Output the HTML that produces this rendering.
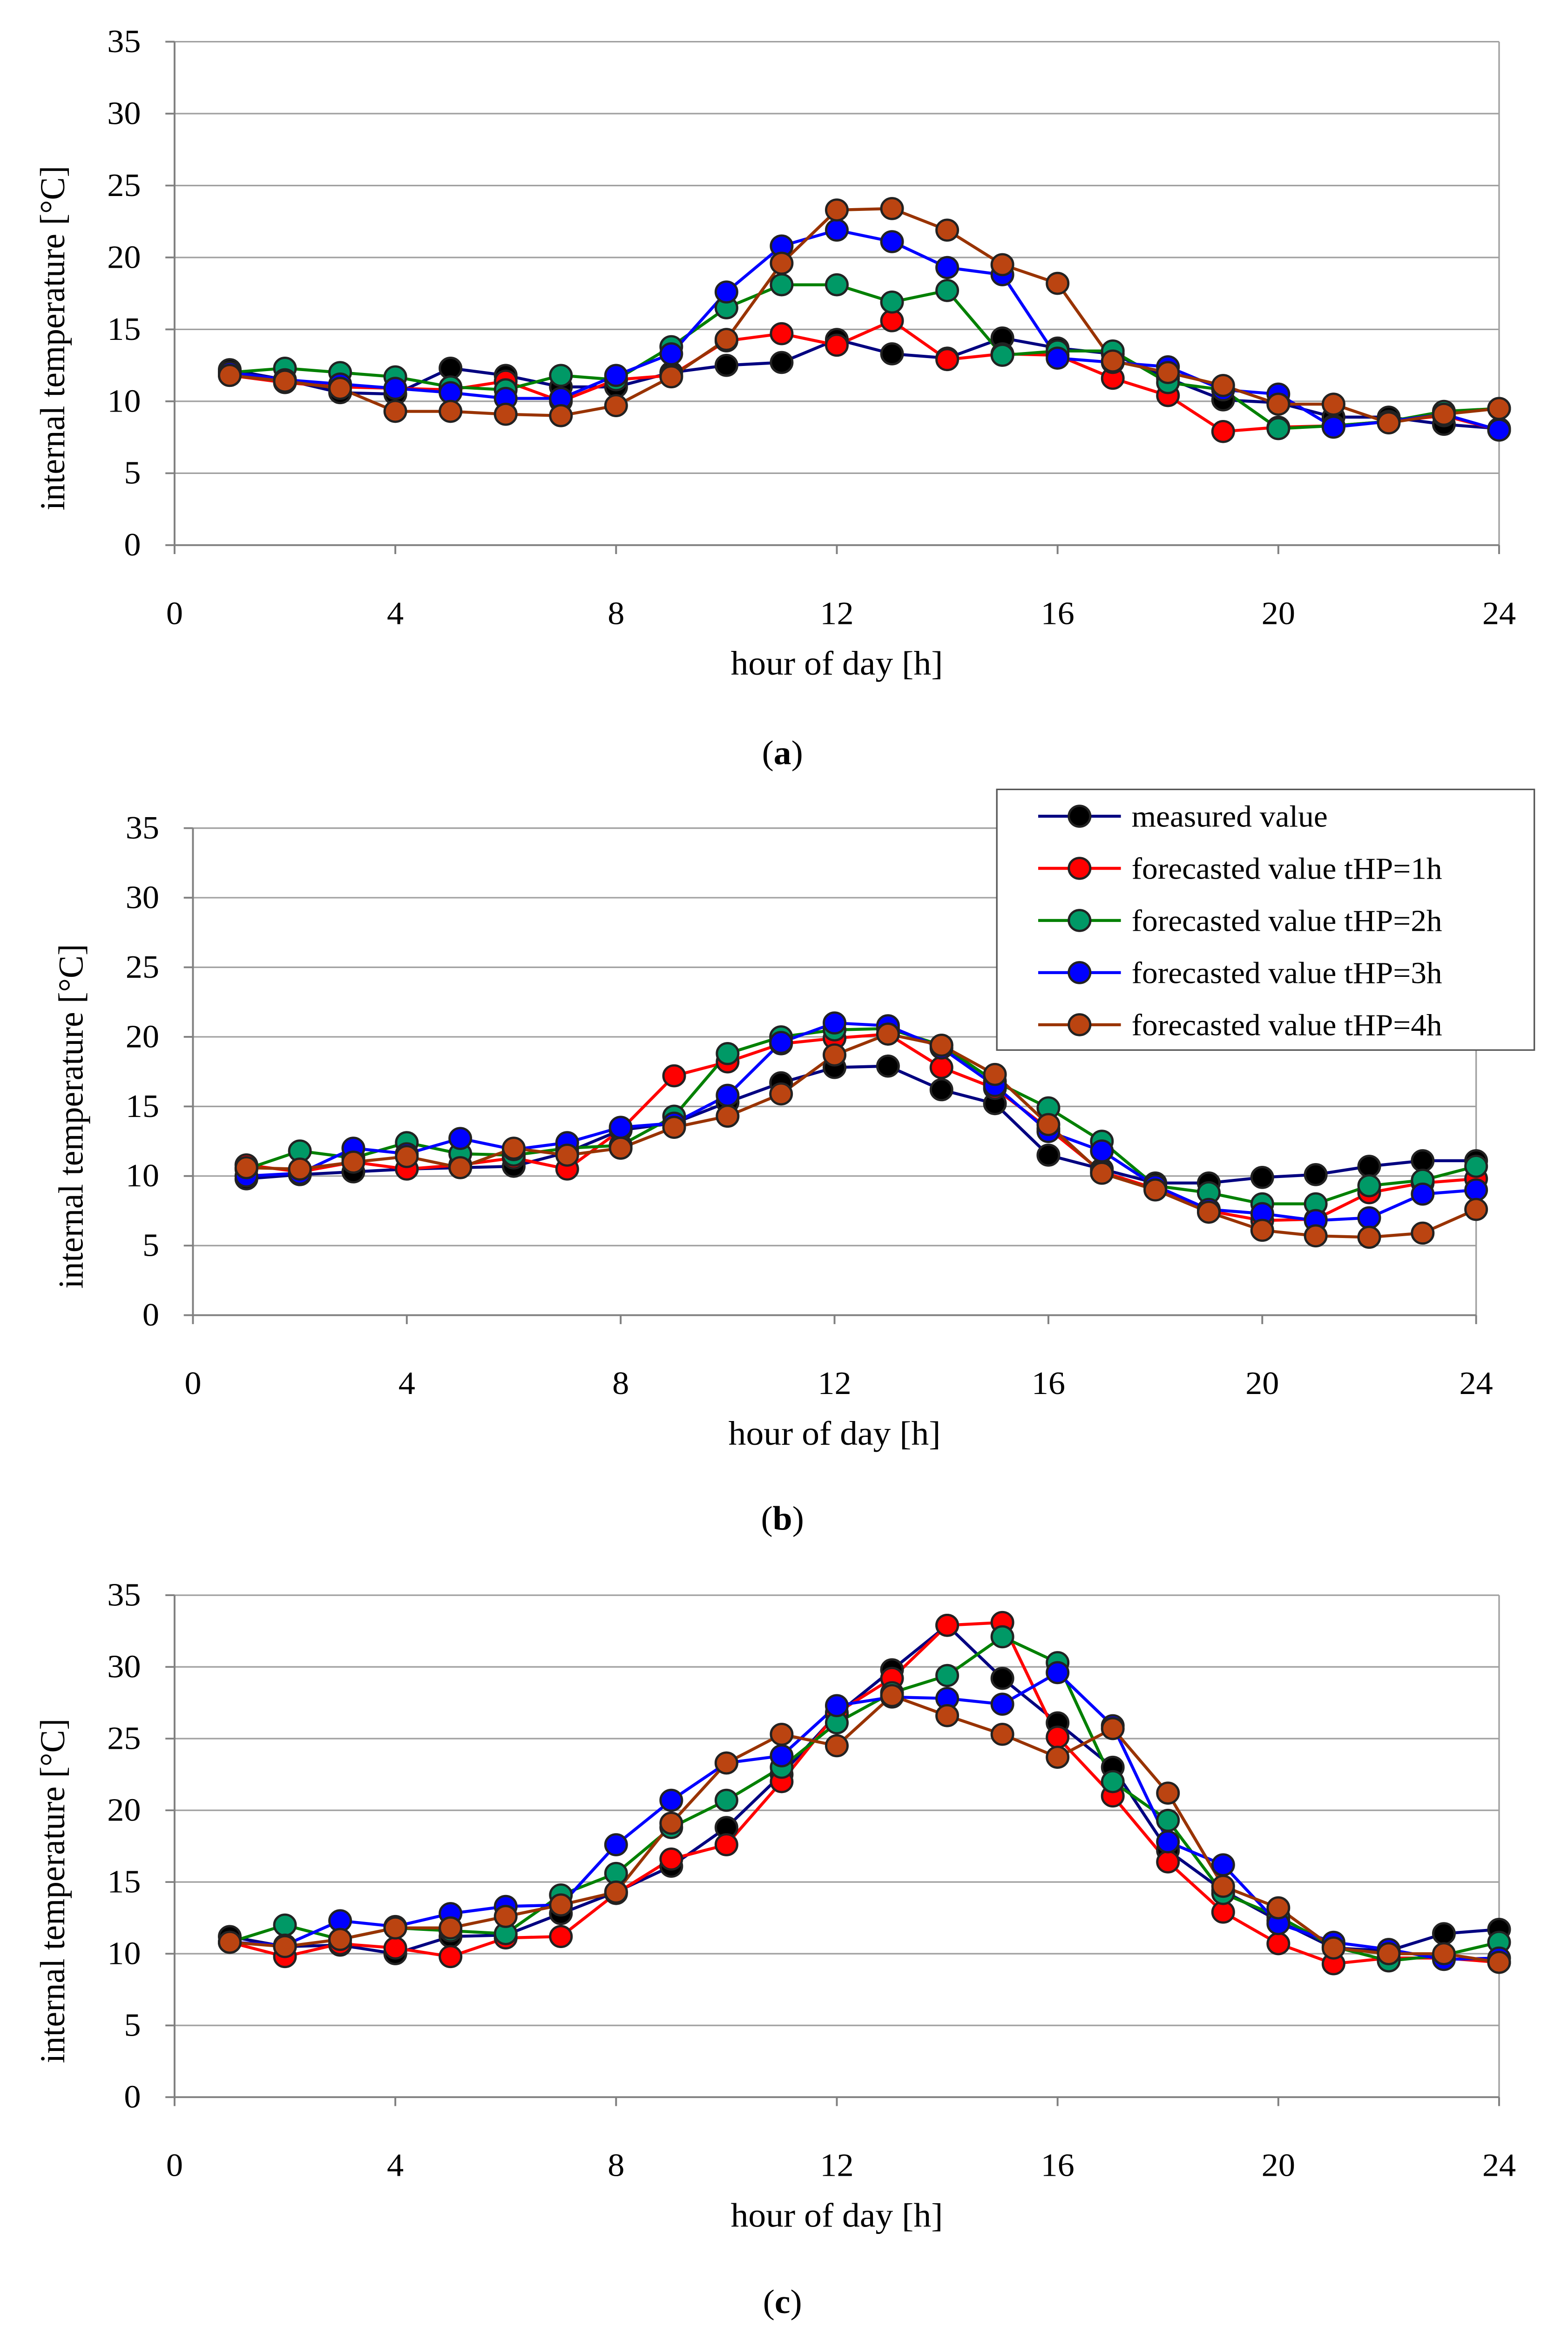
<!DOCTYPE html>
<html><head><meta charset="utf-8">
<style>
html,body{margin:0;padding:0;background:#fff;width:100%;height:100%;overflow:hidden;}
svg{display:block;width:100vw;height:100vh;}
text{font-family:"Liberation Serif",serif;fill:#000;}
</style></head>
<body>
<svg id="fig" viewBox="0 0 1024 1563" preserveAspectRatio="none" xmlns="http://www.w3.org/2000/svg"></svg>
<script>
const hours = [1,2,3,4,5,6,7,8,9,10,11,12,13,14,15,16,17,18,19,20,21,22,23,24];
const seriesNames = ["measured value","forecasted value tHP=1h","forecasted value tHP=2h","forecasted value tHP=3h","forecasted value tHP=4h"];
const xTicks = [0,4,8,12,16,20,24];
const yTicks = [0,5,10,15,20,25,30,35];

const aMeasured = [12.2,11.5,10.6,10.5,12.3,11.8,11.0,11.0,12.0,12.5,12.7,14.3,13.3,13.0,14.4,13.7,13.3,11.6,10.1,9.9,8.9,8.9,8.4,8.1];
const aH1 = [11.8,11.3,11.0,10.9,10.8,11.4,10.0,11.5,11.8,14.2,14.7,13.9,15.6,12.9,13.3,13.2,11.6,10.4,7.9,8.2,8.3,8.6,9.0,8.0];
const aH2 = [12.0,12.3,12.0,11.7,11.0,10.8,11.8,11.5,13.8,16.5,18.1,18.1,16.9,17.7,13.2,13.5,13.5,11.3,10.8,8.1,8.3,8.6,9.3,9.5];
const aH3 = [12.0,11.5,11.2,10.9,10.6,10.2,10.2,11.8,13.3,17.6,20.8,21.9,21.1,19.3,18.8,13.0,12.7,12.4,10.8,10.5,8.2,8.6,9.1,8.0];
const aH4 = [11.8,11.4,10.9,9.3,9.3,9.1,9.0,9.7,11.7,14.3,19.6,23.3,23.4,21.9,19.5,18.2,12.8,12.0,11.1,9.8,9.8,8.5,9.1,9.5];

const bMeasured = [9.8,10.1,10.3,10.5,10.6,10.7,11.7,13.3,13.8,15.3,16.7,17.8,17.9,16.2,15.2,11.5,10.5,9.5,9.5,9.9,10.1,10.7,11.1,11.1];
const bH1 = [10.8,10.3,11.0,10.5,10.8,11.3,10.5,13.3,17.2,18.2,19.5,19.9,20.2,17.8,16.3,13.4,10.3,9.1,7.5,6.8,6.9,8.8,9.5,9.8];
const bH2 = [10.5,11.8,11.3,12.4,11.6,11.5,12.0,12.2,14.3,18.8,20.0,20.5,20.6,19.4,16.8,14.9,12.5,9.3,8.8,8.0,8.0,9.3,9.7,10.7];
const bH3 = [10.0,10.2,12.0,11.6,12.7,11.9,12.4,13.5,13.8,15.8,19.6,21.0,20.8,19.2,16.5,13.2,11.8,9.3,7.6,7.3,6.8,7.0,8.7,9.0];
const bH4 = [10.6,10.5,11.0,11.4,10.6,12.0,11.5,12.0,13.5,14.3,15.9,18.7,20.2,19.4,17.3,13.7,10.2,9.0,7.4,6.1,5.7,5.6,5.9,7.6];

const cMeasured = [11.2,10.5,10.6,10.0,11.2,11.3,12.8,14.3,16.1,18.8,22.5,26.7,29.8,32.9,29.2,26.1,23.0,17.2,14.4,12.3,10.4,10.2,11.4,11.7];
const cH1 = [10.8,9.8,10.7,10.4,9.8,11.1,11.2,14.2,16.6,17.6,22.0,26.8,29.2,32.9,33.1,25.1,21.0,16.4,12.9,10.7,9.3,9.7,9.7,9.4];
const cH2 = [10.8,12.0,11.0,11.8,11.6,11.4,14.1,15.6,18.8,20.7,23.0,26.1,28.2,29.4,32.1,30.3,22.0,19.3,14.2,12.6,10.5,9.5,9.9,10.8];
const cH3 = [10.8,10.6,12.3,11.9,12.8,13.3,13.4,17.6,20.7,23.3,23.8,27.3,27.9,27.8,27.4,29.6,25.9,17.8,16.2,12.1,10.8,10.3,9.6,9.7];
const cH4 = [10.8,10.5,11.0,11.8,11.8,12.6,13.4,14.3,19.1,23.3,25.3,24.5,28.0,26.6,25.3,23.7,25.7,21.2,14.7,13.2,10.4,10.0,10.0,9.4];

const lineColors = ["#000080","#ff0000","#008000","#0000ff","#993300"];
const markColors = ["#000000","#ff0000","#009966","#0000ff","#bb4411"];

const NS = "http://www.w3.org/2000/svg";
const svg = document.getElementById("fig");
function mk(tag, attrs, parent){
  const e = document.createElementNS(NS, tag);
  for (const k in attrs) e.setAttribute(k, attrs[k]);
  (parent||svg).appendChild(e);
  return e;
}

function chart(id, box, series, caption, capY){
  const g = mk("g", {});
  
  
  const xs = v => box.x0 + (v/24)*(box.x1-box.x0);
  const ys = v => box.y0 - (v/35)*(box.y0-box.y1);
  yTicks.forEach(t=>{
    if (t===0) return;
    const l = mk("line",{x1:box.x0,x2:box.x1,y1:ys(t),y2:ys(t),stroke:"#a0a0a0","stroke-width":1},g);
    
    
  });
  const rl = mk("line",{x1:box.x1,x2:box.x1,y1:box.y1,y2:box.y0,stroke:"#a0a0a0","stroke-width":1},g);
  
  
  const ax = mk("line",{x1:box.x0,x2:box.x1,y1:box.y0,y2:box.y0,stroke:"#808080","stroke-width":1.2},g);
  
  
  const ay = mk("line",{x1:box.x0,x2:box.x0,y1:box.y1,y2:box.y0,stroke:"#808080","stroke-width":1.2},g);
  
  
  xTicks.forEach(t=>{
    mk("line",{x1:xs(t),x2:xs(t),y1:box.y0,y2:box.y0+6,stroke:"#808080","stroke-width":1.2},g);
    const tx = mk("text",{x:xs(t),y:box.y0+53,"text-anchor":"middle","font-size":22},g);
    tx.textContent = t;
    
    
  });
  yTicks.forEach(t=>{
    mk("line",{x1:box.x0-6,x2:box.x0,y1:ys(t),y2:ys(t),stroke:"#808080","stroke-width":1.2},g);
    const tx = mk("text",{x:box.x0-22,y:ys(t)+7,"text-anchor":"end","font-size":22},g);
    tx.textContent = t;
    
    
  });
  const xt = mk("text",{x:(box.x0+box.x1)/2,y:box.y0+87,"text-anchor":"middle","font-size":23},g);
  xt.textContent = "hour of day [h]";
  
  
  const ymid = (box.y0+box.y1)/2+30;
  const yt = mk("text",{x:0,y:0,"text-anchor":"middle","font-size":23,transform:`translate(${box.ytx},${ymid}) rotate(-90)`},g);
  yt.textContent = "internal temperature  [°C]";
  
  
  const cap = mk("text",{x:511,y:capY,"text-anchor":"middle","font-size":23},g);
  cap.innerHTML = '(<tspan font-weight="bold">'+caption+'</tspan>)';
  
  
  series.forEach((vals, si)=>{
    const pts = vals.map((v,i)=>xs(hours[i])+","+ys(v)).join(" ");
    const pl = mk("polyline",{points:pts,fill:"none",stroke:lineColors[si],"stroke-width":2},g);
    
    
  });
  series.forEach((vals, si)=>{
    vals.forEach((v,i)=>{
      const c = mk("circle",{cx:xs(hours[i]),cy:ys(v),r:7,fill:markColors[si],stroke:"#222","stroke-width":1.5},g);
      
      
    });
  });
}

chart("a",{x0:114,x1:979,y0:366,y1:28,ytx:42},[aMeasured,aH1,aH2,aH3,aH4],"a",513);
chart("b",{x0:126,x1:964,y0:883,y1:556,ytx:54},[bMeasured,bH1,bH2,bH3,bH4],"b",1027);
chart("c",{x0:114,x1:979,y0:1408,y1:1071,ytx:42},[cMeasured,cH1,cH2,cH3,cH4],"c",1553);

const lg = mk("g",{});


mk("rect",{x:651,y:530,width:351,height:175,fill:"#fff",stroke:"#555","stroke-width":1},lg);
seriesNames.forEach((n,i)=>{
  const y = 548 + i*35;
  const e = mk("g",{},lg);
  
  
  mk("line",{x1:678,x2:732,y1:y,y2:y,stroke:lineColors[i],"stroke-width":2},e);
  mk("circle",{cx:705,cy:y,r:7,fill:markColors[i],stroke:"#222","stroke-width":1.5},e);
  const t = mk("text",{x:739,y:y+7,"font-size":20.5},e);
  t.textContent = n;
});
</script>
</body></html>
